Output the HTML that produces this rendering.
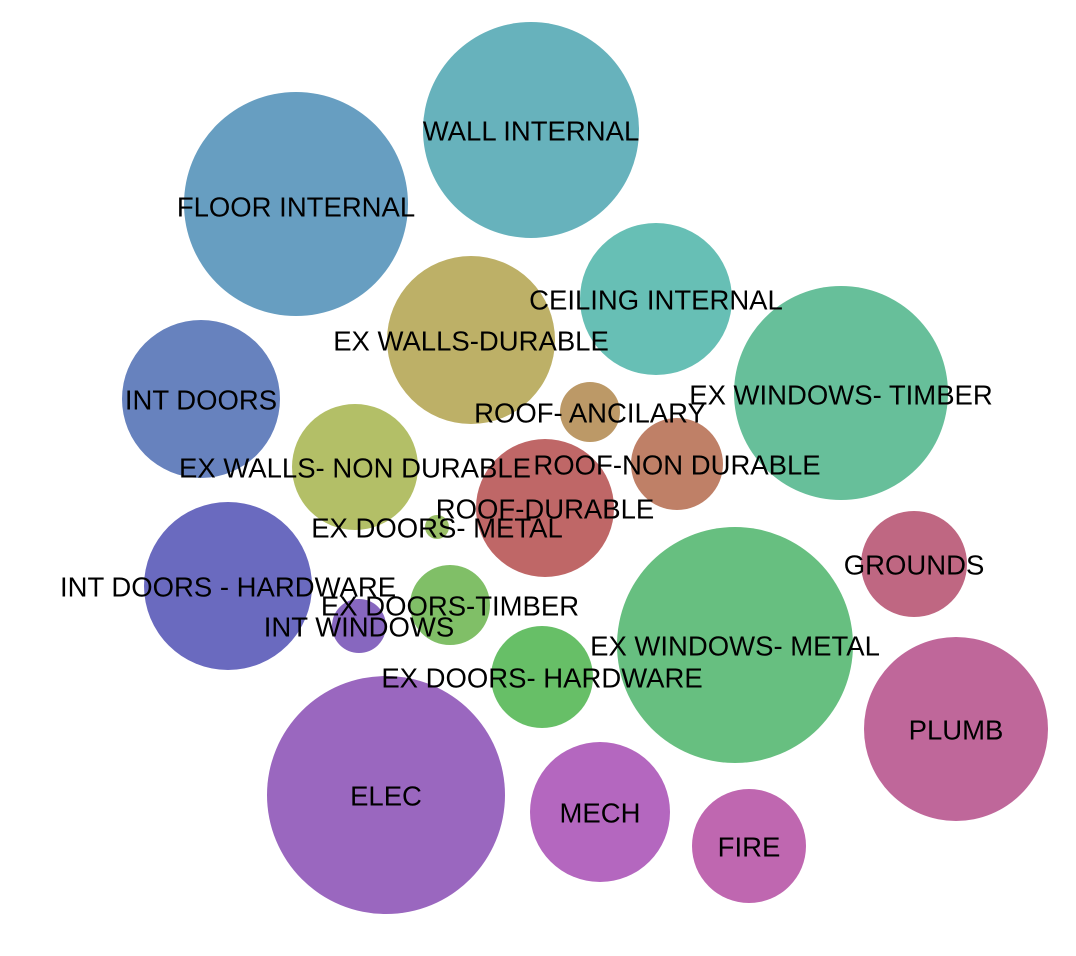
<!DOCTYPE html>
<html><head><meta charset="utf-8"><style>
html,body{margin:0;padding:0;background:#fff;}
svg{display:block}
text{font-family:"Liberation Sans",Arial,sans-serif;font-size:27.5px;fill:#000;text-anchor:middle;dominant-baseline:central}
</style></head><body>
<svg width="1076" height="956" viewBox="0 0 1076 956">
<circle cx="531" cy="130" r="108" fill="#67b2bc"/>
<circle cx="296" cy="204" r="112" fill="#679ec1"/>
<circle cx="656" cy="299" r="76" fill="#67bfb5"/>
<circle cx="471" cy="340" r="84" fill="#bdb067"/>
<circle cx="201" cy="399" r="79" fill="#6782be"/>
<circle cx="841" cy="393" r="107" fill="#67bf9a"/>
<circle cx="590" cy="412" r="30" fill="#bc9967"/>
<circle cx="677" cy="464" r="46" fill="#bf8067"/>
<circle cx="355" cy="467" r="63" fill="#b3bf67"/>
<circle cx="545" cy="508" r="69" fill="#bf6767"/>
<circle cx="437" cy="527" r="12" fill="#9abf67"/>
<circle cx="228" cy="586" r="84" fill="#6a6abf"/>
<circle cx="914" cy="564" r="53" fill="#bf6782"/>
<circle cx="450" cy="605" r="40" fill="#80bf67"/>
<circle cx="359" cy="626" r="27" fill="#8767bf"/>
<circle cx="735" cy="645" r="118" fill="#67bf80"/>
<circle cx="542" cy="677" r="51" fill="#67bf67"/>
<circle cx="956" cy="729" r="92" fill="#bf679a"/>
<circle cx="386" cy="795" r="119" fill="#9a67bf"/>
<circle cx="600" cy="812" r="70" fill="#b467bf"/>
<circle cx="749" cy="846" r="57" fill="#bf67b0"/>
<text x="531" y="131">WALL INTERNAL</text>
<text x="296" y="207">FLOOR INTERNAL</text>
<text x="656" y="300">CEILING INTERNAL</text>
<text x="471" y="341">EX WALLS-DURABLE</text>
<text x="201" y="400">INT DOORS</text>
<text x="841" y="395">EX WINDOWS- TIMBER</text>
<text x="590" y="413">ROOF- ANCILARY</text>
<text x="677" y="465">ROOF-NON DURABLE</text>
<text x="355" y="468">EX WALLS- NON DURABLE</text>
<text x="545" y="509">ROOF-DURABLE</text>
<text x="437" y="528">EX DOORS- METAL</text>
<text x="228" y="587">INT DOORS - HARDWARE</text>
<text x="914" y="565">GROUNDS</text>
<text x="450" y="606">EX DOORS-TIMBER</text>
<text x="359" y="627">INT WINDOWS</text>
<text x="735" y="646">EX WINDOWS- METAL</text>
<text x="542" y="678">EX DOORS- HARDWARE</text>
<text x="956" y="730">PLUMB</text>
<text x="386" y="796">ELEC</text>
<text x="600" y="813">MECH</text>
<text x="749" y="847">FIRE</text>
</svg>
</body></html>
